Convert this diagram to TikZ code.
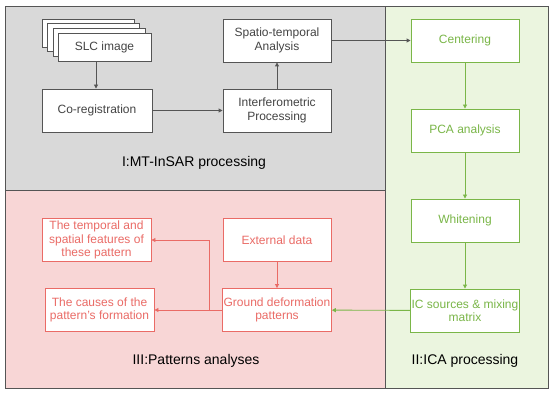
\documentclass[tikz,border=0pt]{standalone}
\usepackage{fontspec}
\setmainfont{Liberation Sans}
\usetikzlibrary{arrows.meta}
\definecolor{panelgray}{HTML}{D9D9D9}
\definecolor{panelgreen}{HTML}{EBF5DF}
\definecolor{panelpink}{HTML}{F8D6D6}
\definecolor{edgedark}{HTML}{555555}
\definecolor{linegreen}{HTML}{7AB648}
\definecolor{linered}{HTML}{EA6B66}
\definecolor{textgray}{HTML}{444444}
\tikzset{
  panel/.style={draw=edgedark, line width=0.9pt},
  graybox/.style={draw=edgedark, fill=white, line width=0.9pt, minimum width=108pt, minimum height=43pt, align=center, font=\fontsize{12}{13.5}\selectfont, text=textgray, inner sep=1pt},
  greenbox/.style={graybox, draw=linegreen, text=linegreen},
  redbox/.style={graybox, draw=linered, text=linered},
  grayarrow/.style={draw=edgedark, line width=0.9pt, -{Triangle[length=4pt,width=4pt,fill=edgedark]}},
  greenarrow/.style={draw=linegreen, line width=0.9pt, -{Triangle[length=4pt,width=4pt,fill=linegreen]}},
  redarrow/.style={draw=linered, line width=0.9pt, -{Triangle[length=4pt,width=4pt,fill=linered]}},
  paneltitle/.style={font=\fontsize{14}{16}\selectfont, text=black}
}
\begin{document}
\begin{tikzpicture}[x=1pt,y=-1pt]
\useasboundingbox (0,0) rectangle (550,396);
% panels
\draw[panel, fill=panelgray] (5,6) rectangle (385,190);
\draw[panel, fill=panelpink] (5,190) rectangle (385,388);
\draw[panel, fill=panelgreen] (385,6) rectangle (548,388);
% panel titles
\node[paneltitle] (t1) at (194,163) {I:MT-InSAR processing};
\node[paneltitle] (t2) at (465,361) {II:ICA processing};
\node[paneltitle] (t3) at (196,361) {III:Patterns analyses};
% panel I
\draw[draw=edgedark, fill=white, line width=0.9pt] (42,19) rectangle (134,47);
\draw[draw=edgedark, fill=white, line width=0.9pt] (47.5,23.5) rectangle (139.5,51.5);
\draw[draw=edgedark, fill=white, line width=0.9pt] (53,28) rectangle (145,56);
\node[graybox, minimum width=93pt, minimum height=28pt] (slc) at (104.5,47) {SLC image};
\node[graybox, minimum width=110pt] (coreg) at (97,110.5) {Co-registration};
\node[graybox] (interf) at (277,110.5) {Interferometric\\Processing};
\node[graybox] (spatio) at (277,40.5) {Spatio-temporal\\Analysis};
\draw[grayarrow] (slc.south -| 96,0) -- (coreg.north -| 96,0);
\draw[grayarrow] (coreg) -- (interf);
\draw[grayarrow] (interf) -- (spatio);
% panel II
\node[greenbox] (center) at (465,40.5) {Centering};
\node[greenbox] (pca) at (465,130.5) {PCA analysis};
\node[greenbox] (white) at (465,220.5) {Whitening};
\node[greenbox] (ic) at (465,310.5) {IC sources \& mixing\\matrix};
\draw[grayarrow] (spatio) -- (center);
\draw[greenarrow] (center) -- (pca);
\draw[greenarrow] (pca) -- (white);
\draw[greenarrow] (white) -- (ic);
% panel III
\node[redbox, minimum width=109pt] (temporal) at (96.5,240) {The temporal and\\spatial features of\\these pattern};
\node[redbox] (external) at (277,240) {External data};
\node[redbox, minimum width=109pt] (causes) at (99.5,310) {The causes of the\\pattern's formation};
\node[redbox] (ground) at (277,310) {Ground deformation\\patterns};
\coordinate (branch) at (209,310);
\draw[greenarrow] (ic) -- (ground);
\draw[redarrow] (external) -- (ground);
\draw[redarrow] (ground) -- (causes);
\draw[redarrow] (branch) |- (temporal.east);
\end{tikzpicture}
\end{document}
